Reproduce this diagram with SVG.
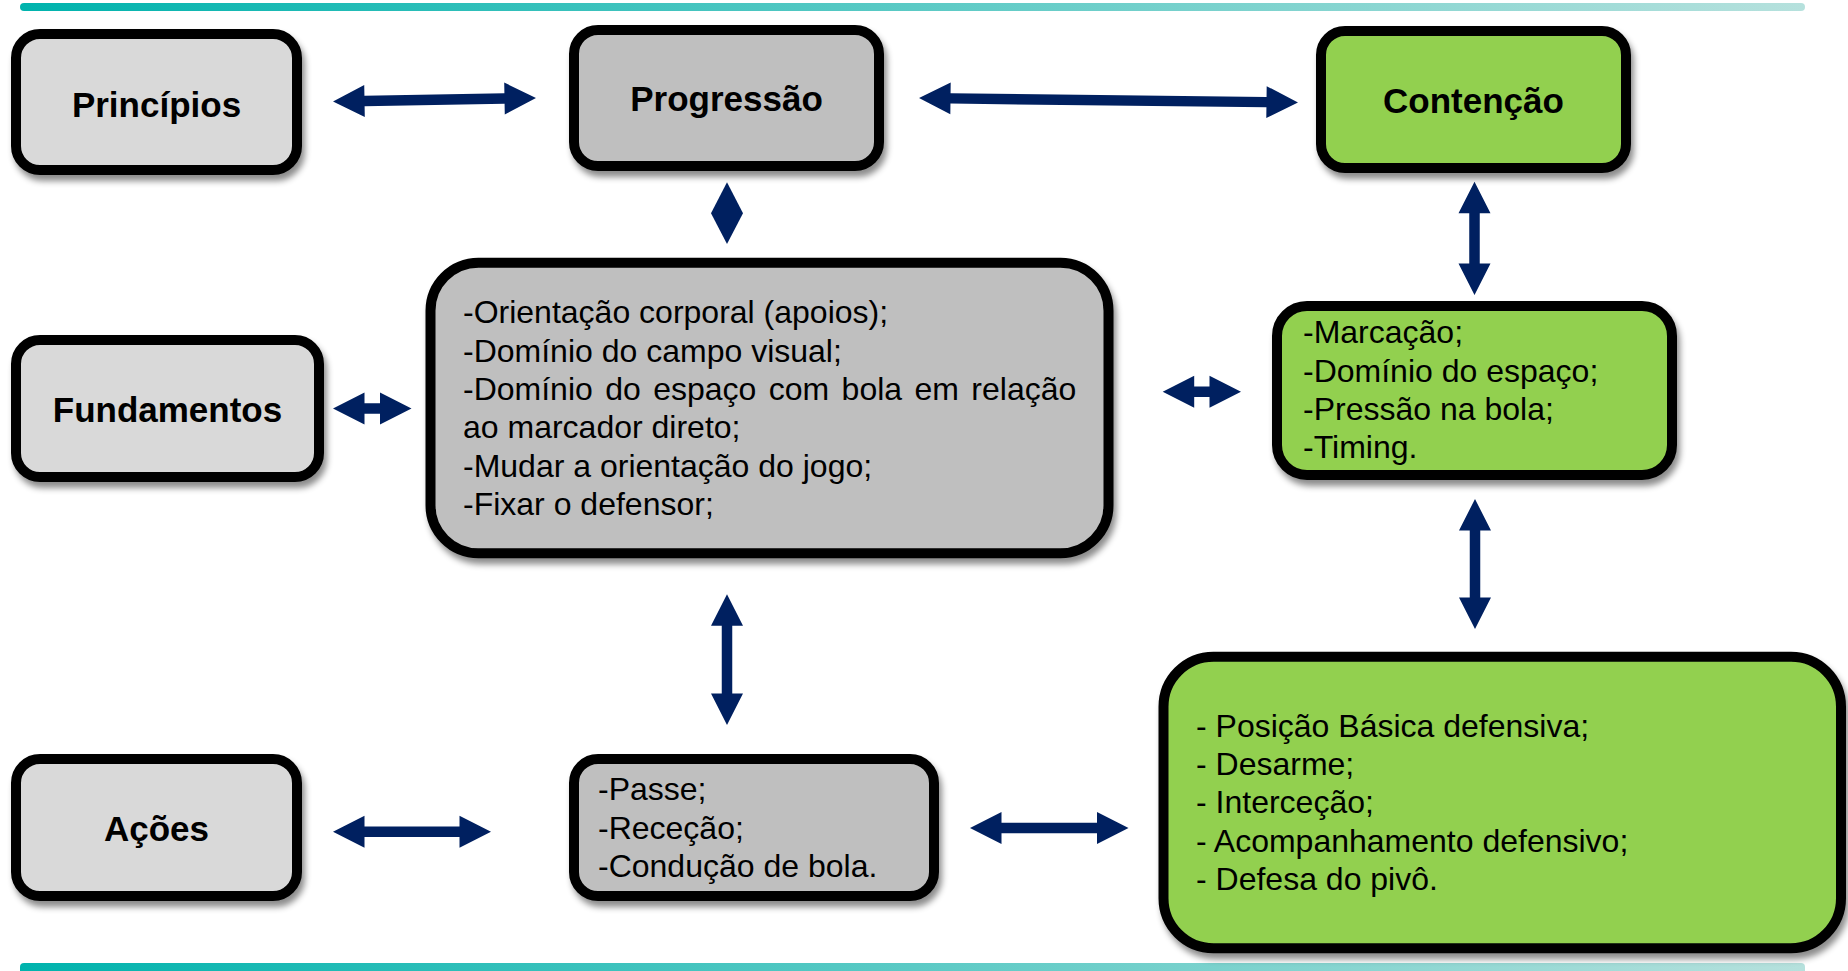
<svg xmlns="http://www.w3.org/2000/svg" width="1848" height="971" viewBox="0 0 1848 971">
<defs>
<linearGradient id="bar" x1="0" y1="0" x2="1" y2="0">
<stop offset="0" stop-color="#00b3ad"/>
<stop offset="1" stop-color="#b6e1dd"/>
</linearGradient>
<filter id="sh" x="-10%" y="-10%" width="125%" height="130%">
<feDropShadow dx="3" dy="6" stdDeviation="3" flood-color="#000" flood-opacity="0.45"/>
</filter>
</defs>
<style>
.box{stroke:#000;stroke-width:10;filter:url(#sh)}
.l1{fill:#d9d9d9}
.g2{fill:#bfbfbf}
.gr{fill:#92d050}
.ttl{font-family:"Liberation Sans",Arial,sans-serif;font-weight:bold;font-size:35px;text-anchor:middle;fill:#000}
.txt{font-family:"Liberation Sans",Arial,sans-serif;font-size:32px;fill:#000}
.arr{fill:#002060}
</style>
<rect x="20" y="3" width="1785" height="8" rx="4" fill="url(#bar)"/>
<rect x="20" y="963" width="1785" height="12" rx="4" fill="url(#bar)"/>

<g id="connectors">
<polygon class="arr" transform="translate(434.5 99.75) rotate(-0.99)" points="-101.5,0 -70,-16 -70,-5.25 70,-5.25 70,-16 101.5,0 70,16 70,5.25 -70,5.25 -70,16"/>
<polygon class="arr" transform="translate(1108.5 100.25) rotate(0.68)" points="-189.5,0 -158,-16 -158,-5.25 158,-5.25 158,-16 189.5,0 158,16 158,5.25 -158,5.25 -158,16"/>
<polygon class="arr" points="727,182.3 743,213.3 727,244 711,213.3"/>
<polygon class="arr" transform="translate(372.25 408.5)" points="-39.25,0 -7.75,-16 -7.75,-5.25 7.75,-5.25 7.75,-16 39.25,0 7.75,16 7.75,5.25 -7.75,5.25 -7.75,16"/>
<polygon class="arr" transform="translate(1201.85 391.7)" points="-39.15,0 -7.65,-16 -7.65,-5.25 7.65,-5.25 7.65,-16 39.15,0 7.65,16 7.65,5.25 -7.65,5.25 -7.65,16"/>
<polygon class="arr" transform="translate(412 831.7)" points="-79,0 -47.5,-16 -47.5,-5.25 47.5,-5.25 47.5,-16 79,0 47.5,16 47.5,5.25 -47.5,5.25 -47.5,16"/>
<polygon class="arr" transform="translate(1049.25 828)" points="-79.25,0 -47.75,-16 -47.75,-5.25 47.75,-5.25 47.75,-16 79.25,0 47.75,16 47.75,5.25 -47.75,5.25 -47.75,16"/>
<polygon class="arr" transform="translate(1474.5 238.35) rotate(90)" points="-56.65,0 -25.15,-16 -25.15,-5.25 25.15,-5.25 25.15,-16 56.65,0 25.15,16 25.15,5.25 -25.15,5.25 -25.15,16"/>
<polygon class="arr" transform="translate(1475 564) rotate(90)" points="-65,0 -33.5,-16 -33.5,-5.25 33.5,-5.25 33.5,-16 65,0 33.5,16 33.5,5.25 -33.5,5.25 -33.5,16"/>
<polygon class="arr" transform="translate(727 659.65) rotate(90)" points="-65.35,0 -33.85,-16 -33.85,-5.25 33.85,-5.25 33.85,-16 65.35,0 33.85,16 33.85,5.25 -33.85,5.25 -33.85,16"/>
</g>

<g id="principios">
<rect class="box l1" x="16" y="34" width="281" height="136" rx="24"/>
<text class="ttl" x="156.5" y="116.5">Princípios</text>
</g>
<g id="progressao">
<rect class="box g2" x="574" y="30" width="305" height="136" rx="24"/>
<text class="ttl" x="726.5" y="110.7">Progressão</text>
</g>
<g id="contencao">
<rect class="box gr" x="1321" y="31" width="305" height="137" rx="24"/>
<text class="ttl" x="1473.5" y="112.5">Contenção</text>
</g>
<g id="fundamentos">
<rect class="box l1" x="16" y="340" width="303" height="137" rx="24"/>
<text class="ttl" x="167.5" y="421.5">Fundamentos</text>
</g>
<g id="fundamentos-progressao">
<rect class="box g2" x="430.5" y="262.7" width="678" height="290.6" rx="48"/>
<text class="txt" x="463" y="323.3">-Orientação corporal (apoios);</text>
<text class="txt" x="463" y="361.6">-Domínio do campo visual;</text>
<text class="txt" x="463" y="399.9" word-spacing="3.5">-Domínio do espaço com bola em relação</text>
<text class="txt" x="463" y="438.2">ao marcador direto;</text>
<text class="txt" x="463" y="476.5">-Mudar a orientação do jogo;</text>
<text class="txt" x="463" y="514.8">-Fixar o defensor;</text>
</g>
<g id="fundamentos-contencao">
<rect class="box gr" x="1277" y="306" width="395" height="169" rx="30"/>
<text class="txt" x="1303" y="343.3">-Marcação;</text>
<text class="txt" x="1303" y="381.6">-Domínio do espaço;</text>
<text class="txt" x="1303" y="419.9">-Pressão na bola;</text>
<text class="txt" x="1303" y="458.2">-Timing.</text>
</g>
<g id="acoes">
<rect class="box l1" x="16" y="759" width="281" height="137" rx="24"/>
<text class="ttl" x="156.5" y="841">Ações</text>
</g>
<g id="acoes-progressao">
<rect class="box g2" x="574" y="759" width="360" height="137" rx="24"/>
<text class="txt" x="598" y="800.3">-Passe;</text>
<text class="txt" x="598" y="838.6">-Receção;</text>
<text class="txt" x="598" y="876.9">-Condução de bola.</text>
</g>
<g id="acoes-contencao">
<rect class="box gr" x="1163.5" y="656.7" width="677.5" height="291.6" rx="50"/>
<text class="txt" x="1196" y="736.7">- Posição Básica defensiva;</text>
<text class="txt" x="1196" y="775">- Desarme;</text>
<text class="txt" x="1196" y="813.3">- Interceção;</text>
<text class="txt" x="1196" y="851.6">- Acompanhamento defensivo;</text>
<text class="txt" x="1196" y="889.9">- Defesa do pivô.</text>
</g>
</svg>
